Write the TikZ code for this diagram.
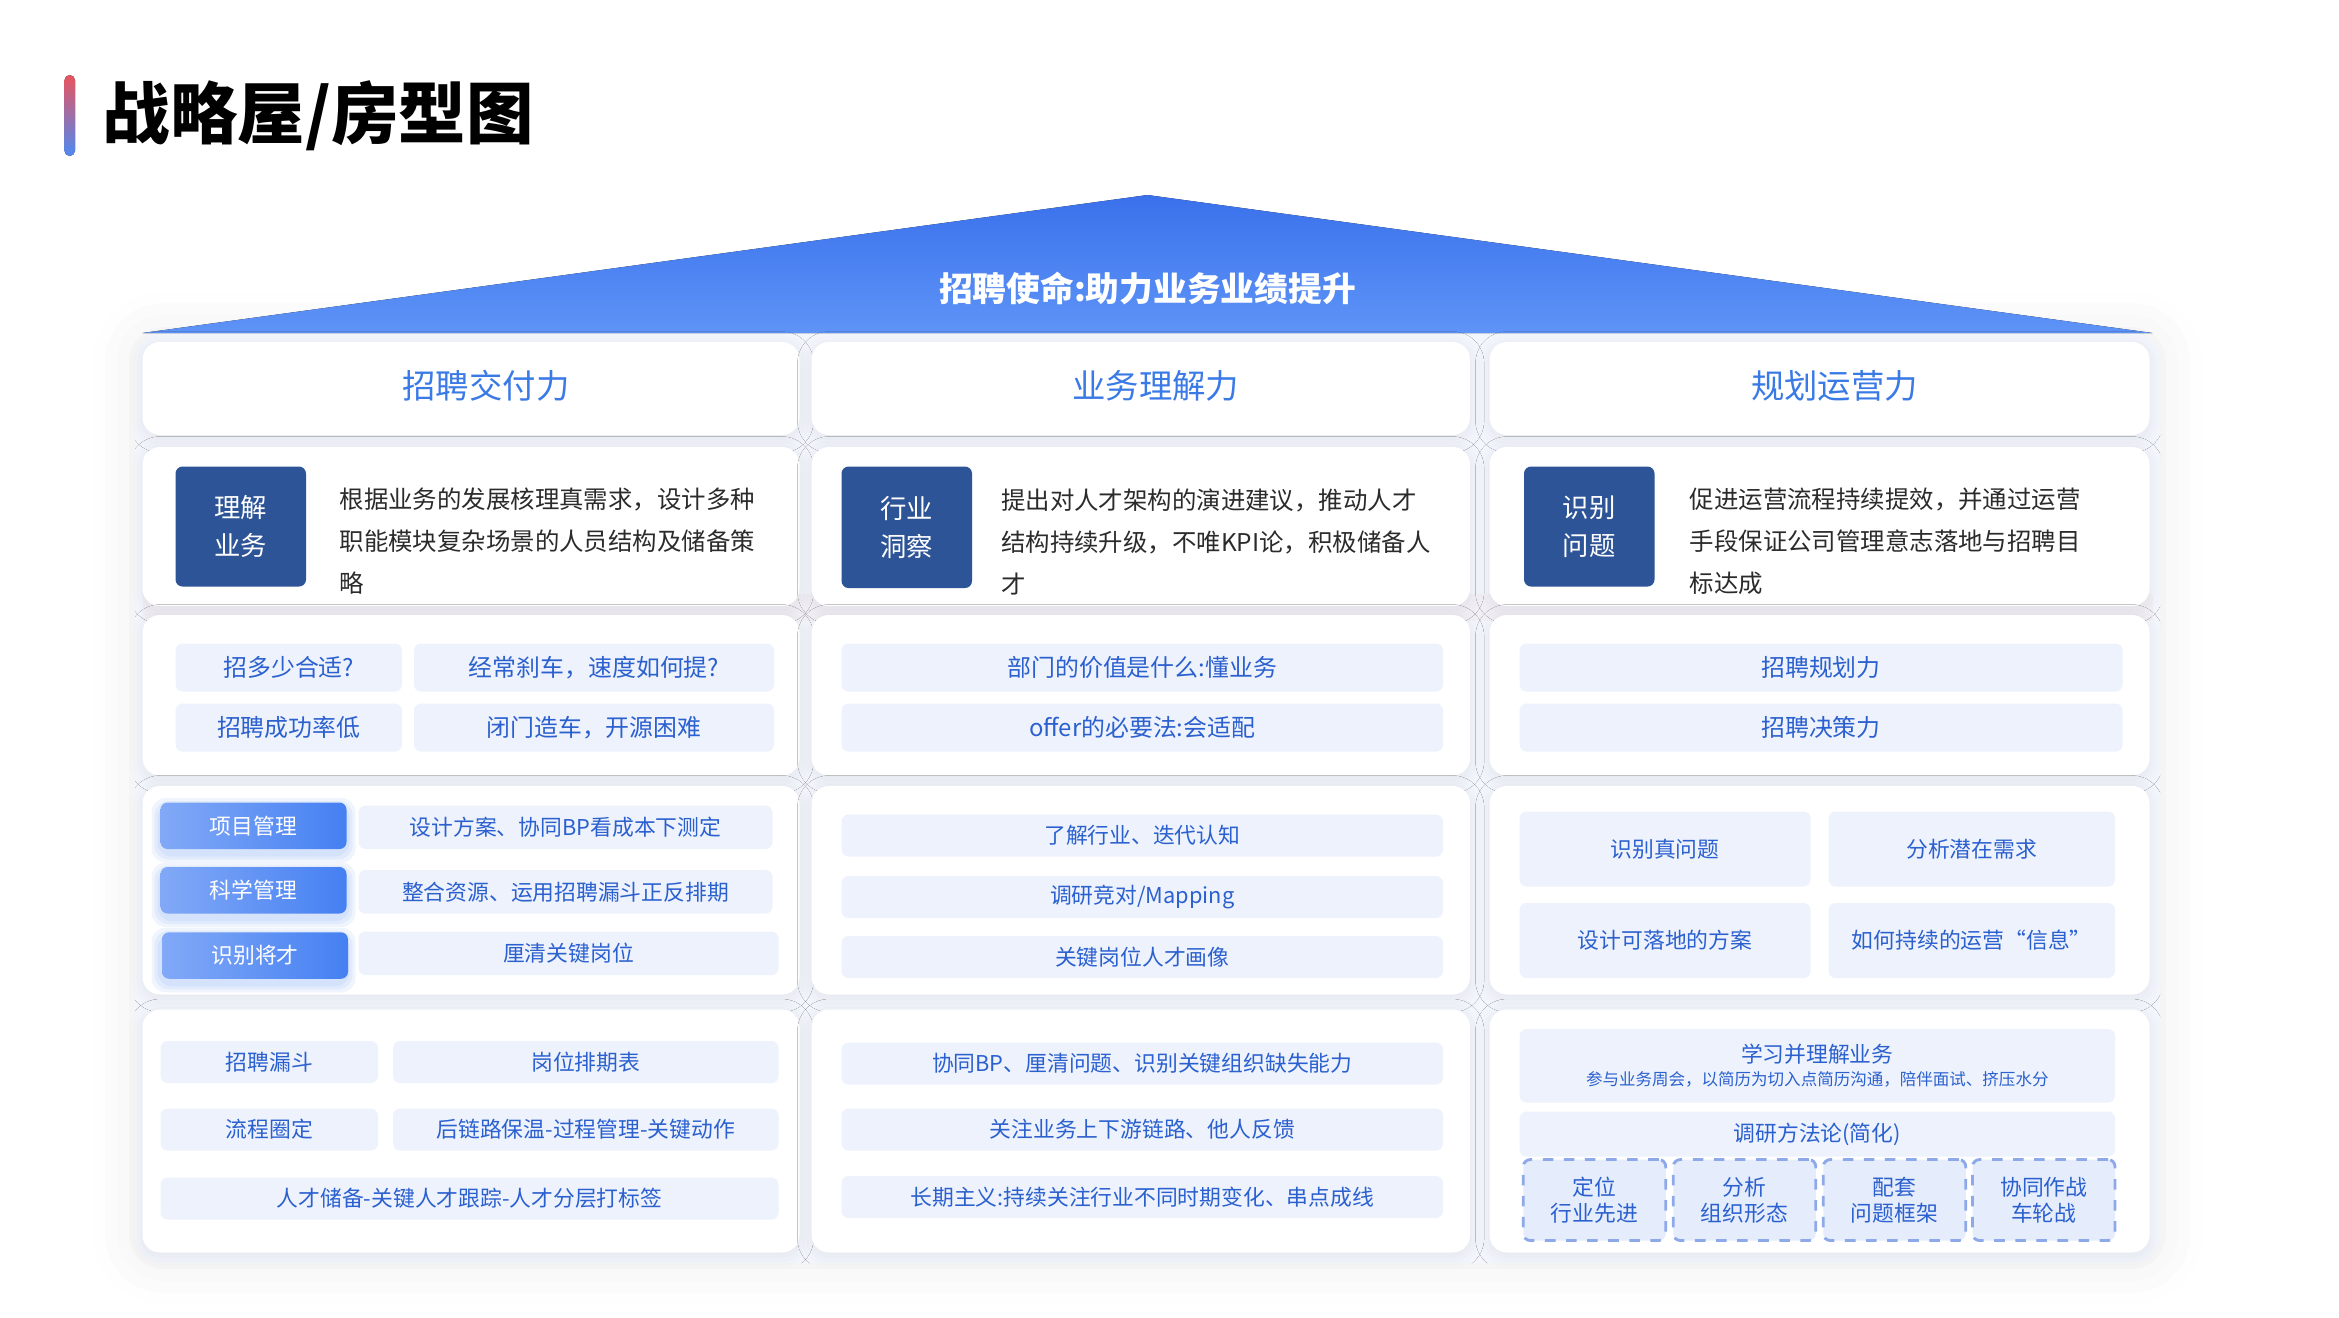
\documentclass[tikz,border=0pt]{standalone}
\usepackage{fontspec}
\setmainfont{Noto Sans CJK SC}
\usetikzlibrary{shadows.blur}

\definecolor{roofdark}{HTML}{3A71EB}
\definecolor{rooflight}{HTML}{5E94F7}
\definecolor{headblue}{HTML}{3A7AE6}
\definecolor{chiptext}{HTML}{2B60CF}
\definecolor{chipfill}{HTML}{EDF2FC}
\definecolor{darkbox}{HTML}{2D5496}
\definecolor{desctext}{HTML}{2B2B2B}
\definecolor{housebg}{HTML}{F3F6FC}
\definecolor{dashline}{HTML}{8EA9EA}
\definecolor{dashfill}{HTML}{E5ECFC}
\definecolor{btnleft}{HTML}{82A9F7}
\definecolor{btnright}{HTML}{4580F2}
\definecolor{barred}{HTML}{E8545E}
\definecolor{barblue}{HTML}{4F8AF1}

\newcommand\fsz[2]{\fontsize{#1}{#2}\selectfont}
\def\pu{0.015cm}

\begin{document}
\begin{tikzpicture}[x=0.015cm, y=-0.015cm,
		cell/.style 2 args={minimum width=#1*\pu, minimum height=#2*\pu, inner sep=0pt},
		panel/.style={fill=white, rounded corners=5pt, blur shadow={shadow xshift=0pt, shadow yshift=-1pt, shadow blur radius=4pt, shadow opacity=7}},
		chip/.style={fill=chipfill, rounded corners=2pt, text=chiptext, font=\fsz{6.2}{7.5}, align=center},
		bigchip/.style={chip, font=\fsz{6.8}{8}},
		btn/.style={left color=btnleft, right color=btnright, rounded corners=2pt, text=white, font=\fsz{6.2}{7.5}},
		glow/.style={fill=btnright, opacity=0.08, rounded corners=4pt},
		tagbox/.style={fill=darkbox, rounded corners=2pt, text=white, font=\fsz{7.5}{10.7}, align=center},
		desc/.style={text=desctext, font=\fsz{6.95}{11.95}, align=left, anchor=west, inner sep=0pt},
		dashbox/.style={fill=dashfill, draw=dashline, dashed, thick, rounded corners=2pt, text=chiptext, font=\fsz{6.2}{7.3}, align=center}]
	\useasboundingbox (0,0) rectangle (1559.33,878);
	
	% title
	\fill[top color=barred, bottom color=barblue, middle color=barred!50!barblue, rounded corners=1.5pt] (43,50) rectangle (50,104);
	\node[anchor=west, inner sep=0pt, font=\fsz{19.2}{22}\bfseries] (title) at (68,77) {战略屋/房型图};
	
	% pale house background
	\fill[housebg, rounded corners=8pt, blur shadow={shadow xshift=0pt, shadow yshift=0pt, shadow blur radius=12pt, shadow opacity=8}] (90,222) rectangle (1440,842);
	\fill[barred, opacity=0.035] (95,396) rectangle (1435,414);
	
	% roof
	\fill[top color=roofdark, bottom color=rooflight] (95,222) -- (765,130) -- (1435,222) -- cycle;
	\node[text=white, font=\fsz{9.6}{11}\bfseries] (mission) at (765,192) {招聘使命:助力业务业绩提升};
	
	% columns: header, description and the three panels below
	\foreach \cx/\cw/\n/\head in {314/438/a/招聘交付力, 760.5/439/b/业务理解力, 1213/440/c/规划运营力}{
		\node[panel, cell={\cw}{62}] (head-\n) at (\cx,259) {};
		\node[text=headblue, font=\fsz{9.5}{11}] (htext-\n) at ([xshift=10*\pu, yshift=2*\pu]head-\n.center) {\head};
		\node[panel, cell={\cw}{106}] (desc-\n) at (\cx,351) {};
		\node[panel, cell={\cw}{107}] (ask-\n) at (\cx,463.5) {};
		\node[panel, cell={\cw}{139}] (way-\n) at (\cx,593.5) {};
		\node[panel, cell={\cw}{162}] (act-\n) at (\cx,754) {};
	}
	
	% description row
	\node[tagbox, cell={87}{80}] (tag-a) at (160.5,351) {理解\\业务};
	\node[desc] (text-a) at (226,361) {根据业务的发展核理真需求，设计多种\\职能模块复杂场景的人员结构及储备策\\略};
	\node[tagbox, cell={87}{81}] (tag-b) at (604.5,351.5) {行业\\洞察};
	\node[desc] (text-b) at (667,361) {提出对人才架构的演进建议，推动人才\\结构持续升级，不唯KPI论，积极储备人\\才};
	\node[tagbox, cell={87}{80}] (tag-c) at (1059.5,351) {识别\\问题};
	\node[desc] (text-c) at (1126,361) {促进运营流程持续提效，并通过运营\\手段保证公司管理意志落地与招聘目\\标达成};
	
	% questions
	\node[bigchip, cell={151}{32}] (q-a1) at (192.5,445) {招多少合适?};
	\node[bigchip, cell={240}{32}] (q-a2) at (396,445) {经常刹车，速度如何提?};
	\node[bigchip, cell={151}{32}] (q-a3) at (192.5,485) {招聘成功率低};
	\node[bigchip, cell={240}{32}] (q-a4) at (396,485) {闭门造车，开源困难};
	\node[bigchip, cell={401}{32}] (q-b1) at (761.5,445) {部门的价值是什么:懂业务};
	\node[bigchip, cell={401}{32}] (q-b2) at (761.5,485) {offer的必要法:会适配};
	\node[bigchip, cell={402}{32}] (q-c1) at (1214,445) {招聘规划力};
	\node[bigchip, cell={402}{32}] (q-c2) at (1214,485) {招聘决策力};
	
	% ways of working, buttons with a soft blue glow
	\foreach \by in {550.5,593.5,637}{
		\foreach \g in {2,4,6}{
			\fill[glow] (107-\g,\by-15.5+3-\g) rectangle (231+\g,\by+15.5+3+\g);
		}
	}
	\node[btn, cell={124}{31}] (btn-1) at (169,550.5) {项目管理};
	\node[btn, cell={124}{31}] (btn-2) at (169,593.5) {科学管理};
	\node[btn, cell={124}{31}] (btn-3) at (170,637) {识别将才};
	\node[chip, cell={276}{29}] (w-a1) at (377,551.5) {设计方案、协同BP看成本下测定};
	\node[chip, cell={276}{29}] (w-a2) at (377,594.5) {整合资源、运用招聘漏斗正反排期};
	\node[chip, cell={280}{29}] (w-a3) at (379,635.5) {厘清关键岗位};
	\node[chip, cell={401}{28}] (w-b1) at (761.5,557) {了解行业、迭代认知};
	\node[chip, cell={401}{28}] (w-b2) at (761.5,598) {调研竞对/Mapping};
	\node[chip, cell={401}{28}] (w-b3) at (761.5,638) {关键岗位人才画像};
	\node[chip, cell={194}{50}] (w-c1) at (1110,566) {识别真问题};
	\node[chip, cell={191}{50}] (w-c2) at (1314.5,566) {分析潜在需求};
	\node[chip, cell={194}{50}] (w-c3) at (1110,627) {设计可落地的方案};
	\node[chip, cell={191}{50}] (w-c4) at (1314.5,627) {如何持续的运营“信息”};
	
	% actions
	\node[chip, cell={145}{28}] (x-a1) at (179.5,708) {招聘漏斗};
	\node[chip, cell={257}{28}] (x-a2) at (390.5,708) {岗位排期表};
	\node[chip, cell={145}{28}] (x-a3) at (179.5,753) {流程圈定};
	\node[chip, cell={257}{28}] (x-a4) at (390.5,753) {后链路保温-过程管理-关键动作};
	\node[chip, cell={412}{28}] (x-a5) at (313,799) {人才储备-关键人才跟踪-人才分层打标签};
	\node[chip, cell={401}{28}] (x-b1) at (761.5,709) {协同BP、厘清问题、识别关键组织缺失能力};
	\node[chip, cell={401}{28}] (x-b2) at (761.5,753) {关注业务上下游链路、他人反馈};
	\node[chip, cell={401}{28}] (x-b3) at (761.5,798) {长期主义:持续关注行业不同时期变化、串点成线};
	\node[chip, cell={397}{49}] (x-c1) at (1211.5,710.5) {学习并理解业务\\[-1pt]{\fsz{4.7}{5.5}参与业务周会，以简历为切入点简历沟通，陪伴面试、挤压水分}};
	\node[chip, cell={397}{30}] (x-c2) at (1211.5,756) {调研方法论(简化)};
	\foreach \dx/\n/\txt in {1063/1/定位\\行业先进, 1163/2/分析\\组织形态, 1263/3/配套\\问题框架, 1362.5/4/协同作战\\车轮战}{
		\node[dashbox, cell={95}{54}] (step-\n) at (\dx,800) {\txt};
	}
\end{tikzpicture}
\end{document}
